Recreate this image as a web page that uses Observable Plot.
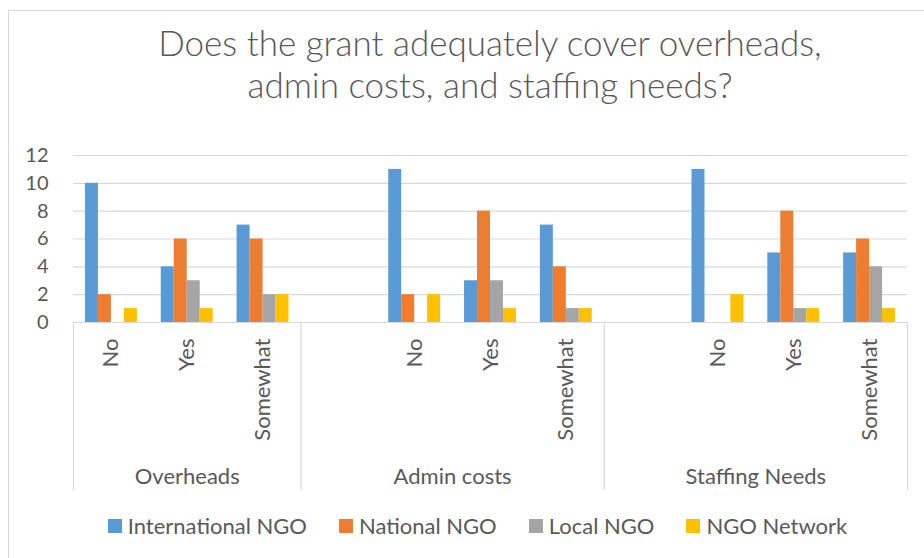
<!DOCTYPE html>
<html>
<head>
<meta charset="utf-8">
<script src="https://cdn.jsdelivr.net/npm/d3@7"></script>
<script src="https://cdn.jsdelivr.net/npm/@observablehq/plot@0.6"></script>
<style>
  html, body { margin: 0; padding: 0; background: #fff; }
  #chart { position: relative; width: 924px; height: 558px; overflow: hidden; font-family: Lato, "Open Sans", sans-serif; color: #595959; background: #fff; }
  #frame { position: absolute; left: 8px; top: 10px; width: 960px; height: 600px; border: 1px solid #d9d9d9; box-sizing: border-box; }
  #title { position: absolute; left: 0; top: 20.5px; width: 980px; text-align: center; font-size: 35px; font-weight: 300; line-height: 42px; }
  .layer { position: absolute; left: 0; top: 0; }
  #legend { position: absolute; left: 0; top: 512.5px; width: 955px; display: flex; justify-content: center; gap: 32px; font-size: 22px; line-height: 26px; }
  .item { display: flex; align-items: center; white-space: nowrap; }
  .sw { width: 14px; height: 14px; margin-right: 6px; }
</style>
</head>
<body>
<div id="chart">
  <div id="frame"></div>
  <div id="title"></div>
  <div id="base" class="layer"></div>
  <div id="bars" class="layer"></div>
  <div id="legend"></div>
</div>
<script>
// ---- data ----
const titleLines = ["Does the grant adequately cover overheads,", "admin costs, and staffing needs?"];
const groups = ["Overheads", "Admin costs", "Staffing Needs"];
const answers = ["No", "Yes", "Somewhat"];
const series = ["International NGO", "National NGO", "Local NGO", "NGO Network"];
const colors = ["#5B9BD5", "#ED7D31", "#A5A5A5", "#FFC000"];
// values in order: Overheads(No,Yes,Somewhat), Admin costs(...), Staffing Needs(...)
const internationalNGO = [10, 4, 7, 11, 3, 7, 11, 5, 5];
const nationalNGO      = [2, 6, 6, 2, 8, 4, 0, 8, 6];
const localNGO         = [0, 3, 2, 0, 3, 1, 0, 1, 4];
const ngoNetwork       = [1, 1, 2, 2, 1, 1, 2, 1, 1];
const yTicks = [0, 2, 4, 6, 8, 10, 12];

// ---- build category slots (Excel sheet had an empty row before 2nd and 3rd groups) ----
const valuesBySeries = [internationalNGO, nationalNGO, localNGO, ngoNetwork];
const slots = [];
groups.forEach((g, gi) => {
  if (gi > 0) slots.push({group: g, answer: "", vi: -1});
  answers.forEach((a, ai) => slots.push({group: g, answer: a, vi: gi * answers.length + ai}));
});
slots.forEach((s, i) => { s.index = i; s.key = i + "|" + s.group + "|" + s.answer; });
const nSlots = slots.length;
const spans = groups.map(g => {
  const idx = slots.filter(s => s.group === g).map(s => s.index);
  return {group: g, start: d3.min(idx), end: d3.max(idx) + 1};
});
const seps = [0, ...spans.map(s => s.end)];

const rows = [];
slots.forEach(s => {
  if (s.vi < 0) return;
  series.forEach((se, k) => rows.push({slot: s.key, series: se, value: valuesBySeries[k][s.vi]}));
});

// ---- layout ----
const W = 924, H = 558, MT = 155, MB = 236, ML = 73, MR = 17;
const font = "Lato, 'Open Sans', sans-serif";
const txt = "#595959", gridC = "#d9d9d9";

document.getElementById("title").innerHTML = titleLines.join("<br>");

const base = Plot.plot({
  width: W, height: H, marginTop: MT, marginBottom: MB, marginLeft: ML, marginRight: MR,
  style: {fontFamily: font, color: txt, background: "transparent", overflow: "visible"},
  x: {domain: [0, nSlots], axis: null},
  y: {domain: [0, 12], axis: null},
  marks: [
    Plot.gridY(yTicks.filter(t => t > 0), {stroke: gridC, strokeOpacity: 1, strokeWidth: 1.2}),
    Plot.ruleY([0], {stroke: gridC, strokeWidth: 1.2}),
    Plot.ruleX(seps, {x: d => d, stroke: gridC, strokeWidth: 1.2, insetTop: H - MB - MT, insetBottom: -168}),
    Plot.axisY({ticks: yTicks, tickSize: 0, tickPadding: 25, fontSize: 20, fill: txt}),
    Plot.text(slots.filter(s => s.answer), {
      x: s => s.index + 0.5, text: "answer", frameAnchor: "bottom",
      rotate: -90, textAnchor: "end", lineAnchor: "middle", dy: 16, fontSize: 22, fill: txt
    }),
    Plot.text(spans, {
      x: s => (s.start + s.end) / 2, text: "group", frameAnchor: "bottom",
      lineAnchor: "bottom", dy: 161, fontSize: 22, fill: txt
    })
  ]
});
document.getElementById("base").appendChild(base);

const bars = Plot.plot({
  width: W, height: H, marginTop: MT, marginBottom: MB, marginLeft: ML, marginRight: MR,
  style: {background: "transparent", overflow: "visible"},
  fx: {domain: slots.map(s => s.key), padding: 0, axis: null, round: false},
  x: {domain: series, paddingInner: 0, paddingOuter: 0.92, axis: null, round: false},
  y: {domain: [0, 12], axis: null},
  color: {domain: series, range: colors},
  marks: [
    Plot.barY(rows, {fx: "slot", x: "series", y: "value", fill: "series"})
  ]
});
document.getElementById("bars").appendChild(bars);

const legend = document.getElementById("legend");
series.forEach((s, i) => {
  const it = document.createElement("div");
  it.className = "item";
  it.innerHTML = `<span class="sw" style="background:${colors[i]}"></span><span>${s}</span>`;
  legend.appendChild(it);
});
</script>
</body>
</html>
